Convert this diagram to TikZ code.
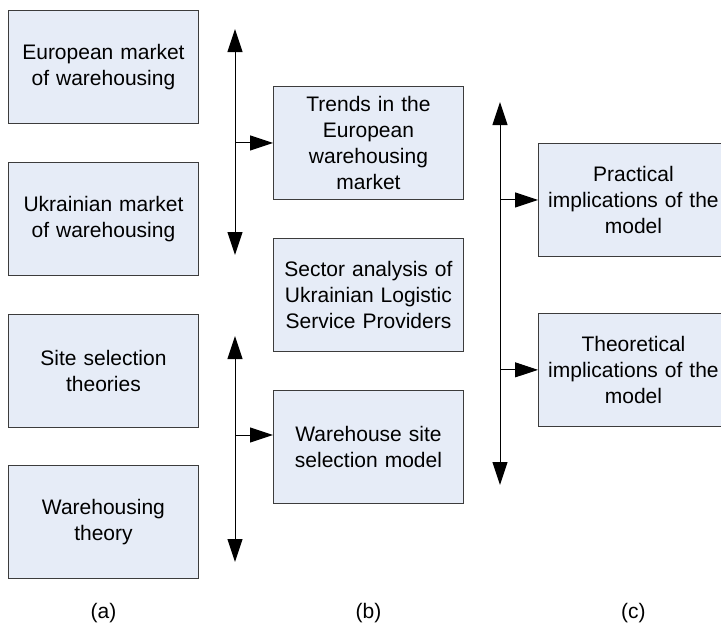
\documentclass[tikz,border=0pt]{standalone}
\usepackage{fontspec}
\setmainfont{Liberation Sans}
\usetikzlibrary{arrows.meta,positioning}
\definecolor{boxfill}{RGB}{230,236,247}
\definecolor{boxline}{RGB}{60,60,60}

\begin{document}
\begin{tikzpicture}[
  x=1pt, y=-1pt,
  stagebox/.style={
    draw=boxline,
    fill=boxfill,
    line width=0.9pt,
    minimum width=190pt,
    minimum height=113pt,
    text width=186pt,
    inner sep=0pt,
    align=center,
    font=\fontsize{21}{26}\selectfont
    },
  flow/.style={
    line width=1pt,
    -{Triangle[length=23pt,width=15pt]}
  },
  twoway/.style={
    line width=1pt,
    {Triangle[length=23pt,width=15pt]}-{Triangle[length=23pt,width=15pt]}
  },
  caption/.style={
    font=\fontsize{21}{26}\selectfont
  }
]
\useasboundingbox (0,0) rectangle (721,625);
\clip (0,0) rectangle (721,625);

% column (a)
\node[stagebox, anchor=north west] (euro) at (8,10) {European market\\of warehousing};
\node[stagebox, below=38pt of euro] (ukr) {Ukrainian market\\of warehousing};
\node[stagebox, below=38pt of ukr] (site) {Site selection\\theories};
\node[stagebox, below=37pt of site] (whtheory) {Warehousing\\theory};

% column (b)
\node[stagebox, anchor=north west] (trends) at (273,86) {Trends in the\\European\\warehousing\\market};
\node[stagebox, below=38pt of trends] (sector) {Sector analysis of\\Ukrainian Logistic\\Service Providers};
\node[stagebox, below=38pt of sector] (model) {Warehouse site\\selection model};

% column (c)
\node[stagebox, anchor=north west] (practical) at (538,143) {Practical\\implications of the\\model};
\node[stagebox, below=56pt of practical] (theoretical) {Theoretical\\implications of the\\model};

% arrows
\coordinate (atop) at (235,29);
\coordinate (abot) at (235,255);
\draw[twoway] (atop) -- (abot);
\draw[flow] (atop |- trends.west) -- (trends.west);

\coordinate (btop) at (235,336);
\coordinate (bbot) at (235,562);
\coordinate (bmid) at (235,435);
\draw[twoway] (btop) -- (bbot);
\draw[flow] (bmid) -- (bmid -| model.west);

\coordinate (ctop) at (500,102);
\coordinate (cbot) at (500,485);
\draw[twoway] (ctop) -- (cbot);
\draw[flow] (ctop |- practical.west) -- (practical.west);
\draw[flow] (ctop |- theoretical.west) -- (theoretical.west);

% captions
\coordinate (caprow) at (0,613);
\node[caption] (capa) at (euro |- caprow) {(a)};
\node[caption] (capb) at (trends |- caprow) {(b)};
\node[caption] (capc) at (practical |- caprow) {(c)};

\end{tikzpicture}
\end{document}
